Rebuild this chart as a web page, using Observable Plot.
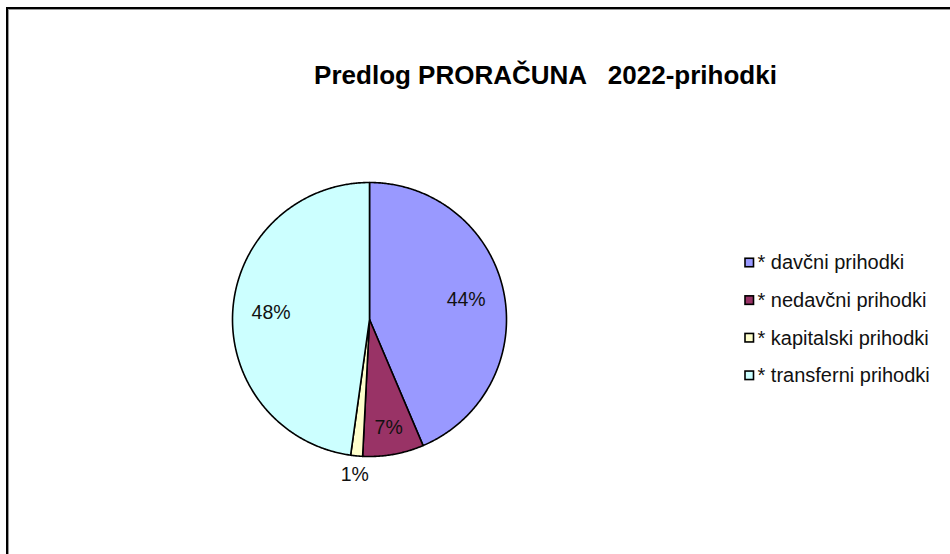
<!DOCTYPE html>
<html><head><meta charset="utf-8">
<script src="https://cdn.jsdelivr.net/npm/d3@7"></script>
<script src="https://cdn.jsdelivr.net/npm/@observablehq/plot@0.6"></script>
<style>
html,body{margin:0;padding:0;background:#fff;overflow:hidden;}
#frame{position:absolute;left:6px;top:7px;width:980px;height:600px;border-top:2px solid #000;border-left:2px solid #000;box-shadow:inset 1px 1px 0 #999;}
#chart{position:absolute;left:0;top:0;}
#chart svg text{white-space:pre;}
</style></head><body>
<div id="frame"></div><div id="chart"></div>
<script>
// ---- data ----
const title = "Predlog PRORAČUNA   2022-prihodki";
const categories = ["* davčni prihodki", "* nedavčni prihodki", "* kapitalski prihodki", "* transferni prihodki"];
const shares = [43.6, 7.2, 1.4, 47.8];
const colors = ["#9999FF", "#993366", "#FFFFCC", "#CCFFFF"];

// ---- layout ----
const W = 950, H = 554, CX = 369, CY = 319, R = 137;
const LX = 745, LY = 262.5, LSTEP = 37.6;
const font = "'Liberation Sans', Arial, sans-serif";

const total = d3.sum(shares);
let acc = 0;
const slices = categories.map((c, i) => {
  const a0 = acc / total * 2 * Math.PI; acc += shares[i];
  const a1 = acc / total * 2 * Math.PI;
  return {c, v: shares[i], a0, a1, mid: (a0 + a1) / 2, i};
});
const pts = [];
for (const s of slices) {
  pts.push({c: s.c, x: CX, y: CY});
  const n = Math.max(2, Math.ceil((s.a1 - s.a0) / (Math.PI / 360)));
  for (let k = 0; k <= n; k++) {
    const a = s.a0 + (s.a1 - s.a0) * k / n;
    pts.push({c: s.c, x: CX + R * Math.sin(a), y: CY - R * Math.cos(a)});
  }
  pts.push({c: s.c, x: CX, y: CY});
}
const lf = v => v < 3 ? 1.14 : v < 10 ? 0.8 : 0.72;

const plot = Plot.plot({
  width: W, height: H, margin: 0,
  x: {domain: [0, W], range: [0, W], axis: null},
  y: {domain: [0, H], range: [0, H], axis: null},
  color: {domain: categories, range: colors},
  style: {fontFamily: font, background: "transparent"},
  marks: [
    Plot.line(pts, {x: "x", y: "y", z: "c", fill: "c", stroke: "#000", strokeWidth: 1.6, strokeLinejoin: "round", curve: "linear"}),
    Plot.text(slices, {
      x: d => CX + lf(d.v) * R * Math.sin(d.mid),
      y: d => CY - lf(d.v) * R * Math.cos(d.mid),
      text: d => Math.round(d.v) + "%", fontSize: 19.5, fill: "#111", fontFamily: font
    }),
    Plot.text([title], {x: () => 545, y: () => 75, text: d => d, fontSize: 26, fontWeight: "bold", fill: "#000", fontFamily: font}),
    Plot.rect(slices, {
      x1: () => LX, x2: () => LX + 8.5,
      y1: d => LY + d.i * LSTEP - 4.25, y2: d => LY + d.i * LSTEP + 4.25,
      fill: "c", stroke: "#000", strokeWidth: 1.6
    }),
    Plot.text(slices, {
      x: () => LX + 12, y: d => LY + d.i * LSTEP, text: "c",
      textAnchor: "start", fontSize: 20, fill: "#111", fontFamily: font
    })
  ]
});
document.getElementById("chart").append(plot);
</script>
</body></html>
